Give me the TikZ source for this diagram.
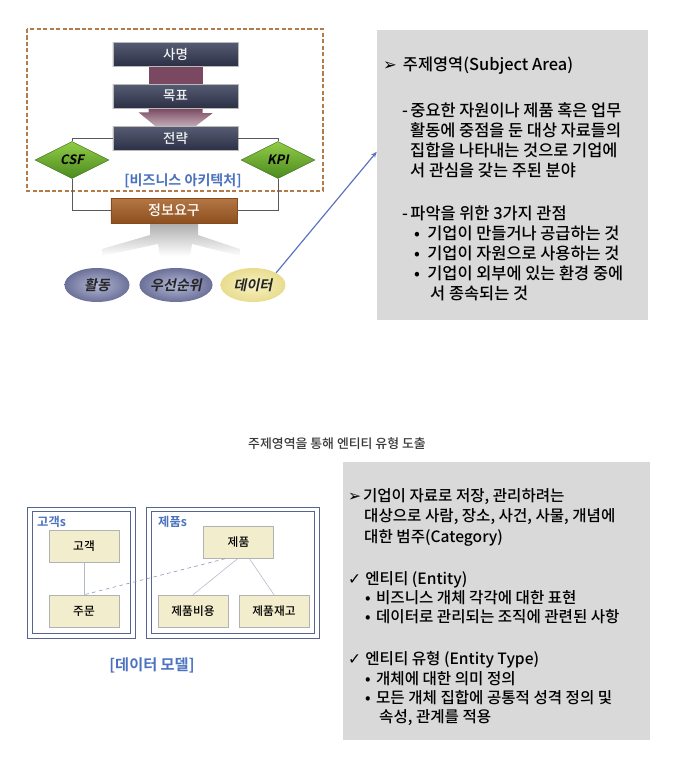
\documentclass[tikz,border=0pt]{standalone}
\usepackage{fontspec}
\setmainfont{Noto Sans CJK KR}[UprightFont=* Medium, BoldFont=* Bold]
\newfontfamily\slantkr{Noto Sans CJK KR}[UprightFont=* Medium, BoldFont=* Bold, FakeSlant=0.2]
\newfontfamily\symfont{DejaVu Sans}
\usepackage{tikz}
\usetikzlibrary{shapes.geometric, calc, arrows.meta, backgrounds}

\definecolor{boxTop}{HTML}{565C74}
\definecolor{boxBot}{HTML}{2C3045}
\definecolor{mauve}{HTML}{7A4860}
\definecolor{leafTop}{HTML}{93CC45}
\definecolor{leafBot}{HTML}{4A8A20}
\definecolor{needBrown}{HTML}{A65E24}
\definecolor{frameBrown}{HTML}{B47A48}
\definecolor{bubbleIn}{HTML}{B4B8D6}
\definecolor{bubbleOut}{HTML}{6B7098}
\definecolor{dataIn}{HTML}{F8F2C6}
\definecolor{dataOut}{HTML}{E8DC8E}
\definecolor{arrowBlue}{HTML}{5A72C0}
\definecolor{labelBlue}{HTML}{4A72BF}
\definecolor{entYellow}{HTML}{F2EDCC}
\definecolor{groupNavy}{HTML}{56668F}
\definecolor{panelGray}{HTML}{D9D9D9}

\begin{document}
\begin{tikzpicture}[x=0.03cm, y=-0.03cm,
  darkbox/.style={draw=gray!55, top color=boxTop, bottom color=boxBot, text=white!90!gray,
    minimum width=3.75cm, minimum height=0.72cm, font=\fontsize{11.5}{13}\selectfont},
  leaf/.style={diamond, draw=leafBot!80!black, top color=leafTop, bottom color=leafBot,
    minimum width=2.22cm, minimum height=1.11cm, inner sep=0pt, font=\slantkr\bfseries\fontsize{11}{13}\selectfont},
  bubble/.style={ellipse, minimum width=1.95cm, minimum height=1.02cm, inner sep=0pt,
    font=\slantkr\bfseries\fontsize{12}{14}\selectfont, text=black!85},
  wire/.style={draw=black!65, line width=0.6pt},
  entity/.style={draw=gray!60, fill=entYellow, minimum width=2.1cm, minimum height=0.96cm,
    font=\fontsize{10}{12}\selectfont},
  groupbox/.style={draw=groupNavy, line width=0.6pt, minimum height=3.93cm},
  link/.style={draw=groupNavy!45, line width=0.5pt},
  panel/.style={fill=panelGray, inner sep=0pt},
  bluelabel/.style={text=labelBlue, font=\bfseries\fontsize{12}{14}\selectfont},
  infotext/.style={anchor=base west, inner sep=0pt, font=\fontsize{14}{17}\selectfont},
  entitytext/.style={anchor=base west, inner sep=0pt, font=\fontsize{13.3}{16}\selectfont}]

  \useasboundingbox (0,0) rectangle (679,781);

  % Business architecture frame
  \draw[frameBrown, line width=1.3pt, dash pattern=on 3.5pt off 2pt] (27,29) rectangle (323,191);

  % Mission, goal, strategy
  \node[darkbox] (samyeong) at (175.5,54) {사명};
  \node[darkbox] (mokpyo) at (175.5,96) {목표};
  \node[darkbox] (jeonryak) at (175.5,138.5) {전략};

  % Arrows between the boxes
  \begin{scope}[on background layer]
    \fill[mauve] ($(samyeong.south)+(-27,0)$) rectangle ($(mokpyo.north)+(27,0)$);
    \shade[top color=mauve, bottom color=mauve!45] ($(mokpyo.south)+(-27,0)$) -- ++(54,0) -- ++(0,5)
      -- ++(10,0) -- ($(jeonryak.north)+(20,0)$) -- ($(jeonryak.north)+(-20,0)$) -- ++(-17,-14)
      -- ++(10,0) -- cycle;
  \end{scope}

  % CSF and KPI
  \node[leaf] (csf) at (72,160) {CSF};
  \node[leaf] (kpi) at (278,160) {KPI};

  \node[bluelabel] (bizarch) at (183,181) {[비즈니스 아키텍처]};

  % Information needs
  \shade[top color=gray!65, bottom color=white] (150,223) -- (198,223) -- (198,235) -- (240,249)
    -- (240,256) -- (192,244) -- (190,256) -- (160,256) -- (158,244) -- (102,256) -- (102,249)
    -- (150,235) -- cycle;
  \node[draw=needBrown!80!black, top color=needBrown!85!white, bottom color=needBrown!85!black,
    text=white, minimum width=3.78cm, minimum height=0.75cm, font=\fontsize{12}{14}\selectfont]
    (jeongbo) at (174,210.5) {정보요구};

  \draw[wire] (jeonryak.west) -| (csf.north);
  \draw[wire] (csf.south) |- (jeongbo.west);
  \draw[wire] (jeonryak.east) -| (kpi.north);
  \draw[wire] (kpi.south) |- (jeongbo.east);

  % Activity, priority, data
  \node[bubble, shading=radial, inner color=bubbleIn, outer color=bubbleOut] (hwaldong) at (97,285) {활동};
  \node[bubble, shading=radial, inner color=bubbleIn, outer color=bubbleOut] (useon) at (176,285) {우선순위};
  \node[bubble, shading=radial, inner color=dataIn, outer color=dataOut] (data) at (253,285) {데이터};

  % Subject area panel
  \node[panel, minimum width=8.13cm, minimum height=8.7cm] (subjbox) at (512.5,175) {};
  \draw[arrowBlue, line width=1pt, -{Stealth[length=5pt, width=4pt]}] (data.north east)
    -- ($(subjbox.north west)!0.42!(subjbox.south west)$);

  \node[infotext] (sa1) at (383,70) {\makebox[1.2em][l]{\symfont ➢}주제영역(Subject Area)};
  \node[infotext] (sa2) at (402,116) {\makebox[0.5em][l]{-}중요한 자원이나 제품 혹은 업무};
  \node[infotext] (sa3) at (410,136) {활동에 중점을 둔 대상 자료들의};
  \node[infotext] (sa4) at (410,156) {집합을 나타내는 것으로 기업에};
  \node[infotext] (sa5) at (410,176) {서 관심을 갖는 주된 분야};
  \node[infotext] (sa6) at (402,219) {\makebox[0.5em][l]{-}파악을 위한 3가지 관점};
  \node[infotext] (sa7) at (414,239) {\makebox[0.8em][l]{•}기업이 만들거나 공급하는 것};
  \node[infotext] (sa8) at (414,259) {\makebox[0.8em][l]{•}기업이 자원으로 사용하는 것};
  \node[infotext] (sa9) at (414,279) {\makebox[0.8em][l]{•}기업이 외부에 있는 환경 중에};
  \node[infotext] (sa10) at (430,299) {서 종속되는 것};

  % Caption
  \node[text=black!78, font=\fontsize{11}{13}\selectfont] (caption) at (337,444) {주제영역을 통해 엔티티 유형 도출};

  % Data model
  \node[groupbox, minimum width=3.24cm] (gogaekgrp) at (81,572.5) {};
  \draw[groupNavy, line width=0.6pt] ($(gogaekgrp.north west)+(5.5,5)$) rectangle ($(gogaekgrp.south east)+(-5,-5)$);
  \node[groupbox, minimum width=5.19cm] (jepumgrp) at (232.5,572.5) {};
  \draw[groupNavy, line width=0.6pt] ($(jepumgrp.north west)+(5.5,5)$) rectangle ($(jepumgrp.south east)+(-5,-5)$);
  \node[bluelabel, anchor=west, inner sep=0pt, font=\bfseries\fontsize{10.5}{12}\selectfont] (gogaeks) at (37,522) {고객s};
  \node[bluelabel, anchor=west, inner sep=0pt, font=\bfseries\fontsize{10.5}{12}\selectfont] (jepums) at (158,522) {제품s};

  \node[entity] (gogaek) at (84,546) {고객};
  \node[entity] (jumun) at (84,611) {주문};
  \node[entity] (jepum) at (238.5,542.5) {제품};
  \node[entity] (jbiyong) at (193,611) {제품비용};
  \node[entity] (jjaego) at (274,611) {제품재고};

  \draw[link] (gogaek) -- (jumun);
  \draw[link] ($(jepum.south)+(-1,0)$) -- (jbiyong.north);
  \draw[link] ($(jepum.south)+(11,0)$) -- (jjaego.north);
  \draw[link, draw=groupNavy!70, dashed] ($(jepum.south)+(-13.5,0)$) -- (jumun.north);

  \node[bluelabel, font=\bfseries\fontsize{13}{15}\selectfont] (datamodel) at (152,665) {[데이터 모델]};

  % Entity panel
  \node[panel, minimum width=9.21cm, minimum height=8.34cm] (entpanel) at (496.5,601) {};
  \node[entitytext] (en1) at (348,501) {\makebox[0.95em][l]{\symfont ➢}기업이 자료로 저장, 관리하려는};
  \node[entitytext] (en2) at (364,521) {대상으로 사람, 장소, 사건, 사물, 개념에};
  \node[entitytext] (en3) at (364,542) {대한 범주(Category)};
  \node[entitytext] (en4) at (348,584) {\makebox[1.1em][l]{\symfont ✓}엔티티 (Entity)};
  \node[entitytext] (en5) at (365,603) {\makebox[0.7em][l]{•}비즈니스 개체 각각에 대한 표현};
  \node[entitytext] (en6) at (365,622) {\makebox[0.7em][l]{•}데이터로 관리되는 조직에 관련된 사항};
  \node[entitytext] (en7) at (348,664) {\makebox[1.1em][l]{\symfont ✓}엔티티 유형 (Entity Type)};
  \node[entitytext] (en8) at (365,684) {\makebox[0.7em][l]{•}개체에 대한 의미 정의};
  \node[entitytext] (en9) at (365,703) {\makebox[0.7em][l]{•}모든 개체 집합에 공통적 성격 정의 및};
  \node[entitytext] (en10) at (379,722) {속성, 관계를 적용};

\end{tikzpicture}
\end{document}
